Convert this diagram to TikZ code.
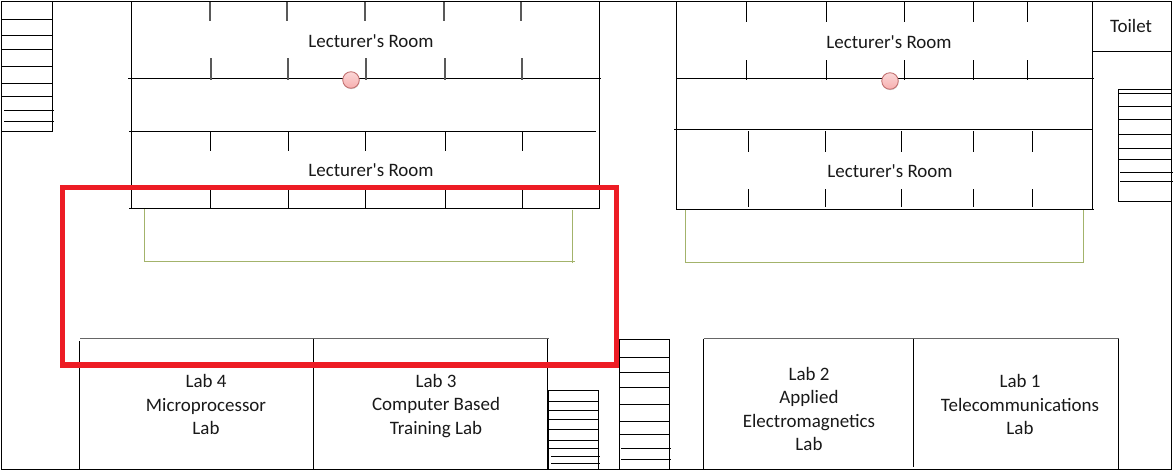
\documentclass[tikz,border=0pt]{standalone}
\usepackage{fontspec}
\setmainfont{Carlito}
\usetikzlibrary{shadows}
\definecolor{redbox}{HTML}{ED1C24}
\definecolor{olive}{HTML}{A3B36B}
\definecolor{pinkdot}{HTML}{F7AFAF}
\newcommand{\lectroom}{Lecturer\textquotesingle s Room}
\tikzset{
  wall/.style={black, line width=0.7pt},
  tick/.style={black, line width=0.7pt},
  greytick/.style={black!65, line width=0.8pt},
  bench/.style={olive, line width=0.6pt},
  roomlabel/.style={font=\fontsize{10.8pt}{13.3pt}\selectfont, align=center, text=black!90},
  dot/.style={circle, minimum size=9.4pt, inner sep=0pt, draw=red!40!gray!80, top color=pinkdot!50, bottom color=pinkdot, line width=0.5pt, drop shadow={shadow xshift=0.2pt, shadow yshift=-0.5pt, opacity=0.35}}
}
\begin{document}
\begin{tikzpicture}[x=0.02cm, y=-0.02cm]
\useasboundingbox (0,0) rectangle (1174,470);
\draw[wall] (1.5,1.5) rectangle (1171.5,469.5);
% left stairs
\draw[wall] (52.5,1.5) -- (52.5,131.5) -- (1.5,131.5);
\foreach \y in {19.5,35.5,49.5,66.5,83.5,96.5} \draw[wall] (2,\y) -- (52.5,\y);
\foreach \y in {110.5,121.5} \draw[wall] (4,\y) -- (54,\y);
% left block
\draw[wall] (131.5,1.5) -- (131.5,208.5);
\draw[wall] (599.5,1.5) -- (599.5,208.5);
\draw[wall] (128,78.5) -- (601,78.5);
\draw[wall] (129,131.5) -- (596,131.5);
\draw[wall] (129,208.5) -- (599.5,208.5);
\foreach \x in {210,287,365,444,521} \draw[greytick] (\x,2) -- (\x,21);
\foreach \x in {211,288,366,445,522} \draw[greytick] (\x,58) -- (\x,80);
\foreach \x in {210.5,288.5,365.5,445.5,522.5} {
  \draw[tick] (\x,131.5) -- (\x,151);
  \draw[tick] (\x,190) -- (\x,208.5);
}
% right block
\draw[wall] (676.5,1.5) -- (676.5,209.5);
\draw[wall] (1092.5,1.5) -- (1092.5,209.5);
\draw[wall] (676.5,78.5) -- (1094,78.5);
\draw[wall] (674,129.5) -- (1092.5,129.5);
\draw[wall] (676.5,209.5) -- (1094,209.5);
\foreach \x in {746.5,826.5,904.5,973.5,1027.5} {
  \draw[tick] (\x,2) -- (\x,22);
  \draw[tick] (\x,60) -- (\x,80);
}
\foreach \x in {748.5,825.5,901.5,973.5,1032.5} {
  \draw[tick] (\x,131) -- (\x,152);
  \draw[tick] (\x,189) -- (\x,207);
}
% toilet and right stairs
\draw[wall] (1092.5,51.5) -- (1171.5,51.5);
\draw[wall] (1171.5,89.5) -- (1118.5,89.5) -- (1118.5,201.5) -- (1171.5,201.5);
\foreach \y in {93.5,106.5,119.5,134.5,148.5,159.5} \draw[wall] (1118.5,\y) -- (1171.5,\y);
\foreach \y in {172.5,181.5} \draw[wall] (1120,\y) -- (1173,\y);
% benches
\draw[bench] (144.5,209) -- (144.5,261.5) -- (575,261.5);
\draw[bench] (572.5,209.5) -- (572.5,263);
\draw[bench] (685.5,209.5) -- (685.5,262.5) -- (1083.5,262.5) -- (1083.5,210);
% labs
\draw[black!60, line width=0.8pt] (80,338.5) -- (549,338.5);
\draw[black!60, line width=0.8pt] (703.5,338.5) -- (1118.5,338.5);
\draw[wall] (79.5,341) -- (79.5,469);
\draw[wall] (313.5,338.5) -- (313.5,469);
\draw[wall] (547.5,338.5) -- (547.5,469);
\draw[wall] (703.5,338.5) -- (703.5,469);
\draw[wall] (913.5,338.5) -- (913.5,467);
\draw[wall] (1118.5,338.5) -- (1118.5,469);
% lower stairs
\draw[wall] (548.5,469) -- (548.5,390.5) -- (598.5,390.5) -- (598.5,469);
\foreach \y in {401.5,410.5,419.5,429.5,440.5,448.5} \draw[wall] (548.5,\y) -- (598.5,\y);
\foreach \y in {456.5,463.5} \draw[wall] (551,\y) -- (600,\y);
\draw[wall] (619.5,469) -- (619.5,339.5) -- (669.5,339.5) -- (669.5,469);
\foreach \y in {357.5,372.5,387.5,404.5,421.5,434.5} \draw[wall] (619.5,\y) -- (669.5,\y);
\foreach \y in {448.5,459.5} \draw[wall] (621,\y) -- (671,\y);
% highlight
\draw[redbox, line width=2.9pt] (62.5,187.5) rectangle (616.5,365);
% labels
\node[roomlabel] (roomA) at (371,41) {\lectroom};
\node[roomlabel] (roomB) at (371,170) {\lectroom};
\node[roomlabel] (roomC) at (889,42) {\lectroom};
\node[roomlabel] (roomD) at (890,171) {\lectroom};
\node[roomlabel] (toilet) at (1131,26) {Toilet};
\node[roomlabel] (labfour) at (206,404.5) {Lab 4\\Microprocessor\\Lab};
\node[roomlabel] (labthree) at (436,406) {Lab 3\\Computer Based\\Training Lab};
\node[roomlabel] (labtwo) at (809,409) {Lab 2\\Applied\\Electromagnetics\\Lab};
\node[roomlabel] (labone) at (1020,404.5) {Lab 1\\Telecommunications\\Lab};
\node[dot] (dotA) at (351,80) {};
\node[dot] (dotB) at (890,81) {};
\end{tikzpicture}
\end{document}
